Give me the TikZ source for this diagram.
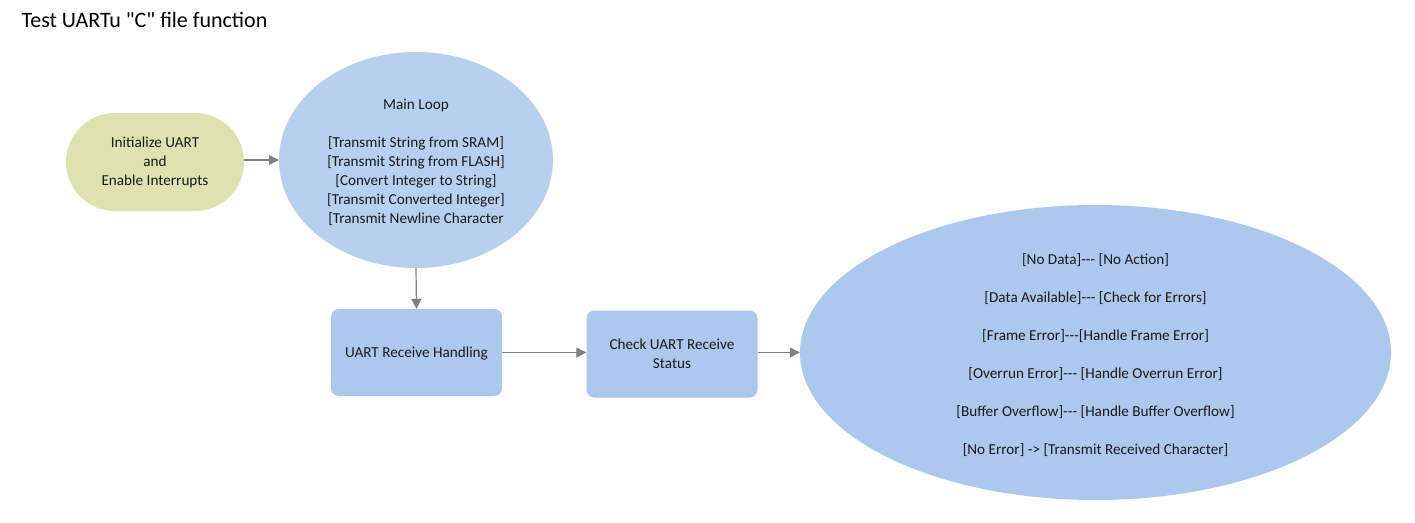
\documentclass[tikz,border=0pt]{standalone}
\usepackage{fontspec}
\setmainfont{Carlito}
\newfontfamily\carl{Carlito}
\usetikzlibrary{arrows.meta,shapes.geometric}
\definecolor{initfill}{HTML}{DCE3B0}
\definecolor{mainfill}{HTML}{B8D0F0}
\definecolor{boxfill}{HTML}{ADC8EE}
\definecolor{arrowgray}{HTML}{808080}
\definecolor{txt}{HTML}{1A1A1A}
\newcommand{\hy}{-{}-{}-}
\tikzset{
  basefont/.style={font=\fontsize{15.2}{19}\selectfont, text=txt, align=center},
  initbox/.style={basefont, fill=initfill, draw=none, rectangle, rounded corners=49pt,
    minimum width=178pt, minimum height=98pt, inner sep=0pt},
  ellbox/.style={ellipse, draw=none, inner sep=0pt},
  rbox/.style={basefont, fill=boxfill, draw=none, rectangle, rounded corners=8pt,
    minimum width=171pt, minimum height=87pt, inner sep=0pt},
  conn/.style={draw=arrowgray, line width=1.2pt, -{Triangle[length=10pt,width=10pt]}},
}
\begin{document}
\begin{tikzpicture}[x=1pt,y=-1pt]
\useasboundingbox[fill=white] (0,0) rectangle (1415,522);
\node[anchor=west, font=\carl\fontsize{22}{26}\selectfont, text=black] (title) at (18,20) {Test UARTu "C" file function};
\node[initbox] (init) at (155,162) {Initialize UART\\and\\Enable Interrupts};
\node[ellbox, fill=mainfill, minimum width=274pt, minimum height=216pt,
  label={[basefont, yshift=-2pt]center:{Main Loop\\[19pt]{[Transmit String from SRAM]}\\{[Transmit String from FLASH]}\\{[Convert Integer to String]}\\{[Transmit Converted Integer]}\\{[Transmit Newline Character}}}] (main) at (416,160) {};
\node[rbox, text depth=0pt] (recv) at (416.5,352.5) {UART Receive Handling};
\node[rbox] (check) at (672,354) {Check UART Receive\\Status};
\node[ellbox, fill=boxfill, minimum width=591pt, minimum height=295pt,
  label={[basefont, yshift=-3pt]center:{{[No Data]\hy{} [No Action]}\\[19pt]{[Data Available]\hy{} [Check for Errors]}\\[19pt]{[Frame Error]\hy[Handle Frame Error]}\\[19pt]{[Overrun Error]\hy{} [Handle Overrun Error]}\\[19pt]{[Buffer Overflow]\hy{} [Handle Buffer Overflow]}\\[19pt]{[No Error] -> [Transmit Received Character]}}}] (status) at (1095.5,352.5) {};
\draw[conn] (init.east |- main.west) -- (main.west);
\draw[conn] (main.south) -- (recv.north);
\draw[conn] (recv.east) -- (check.west |- recv.east);
\draw[conn] (check.east |- status.west) -- (status.west);
\end{tikzpicture}
\end{document}
